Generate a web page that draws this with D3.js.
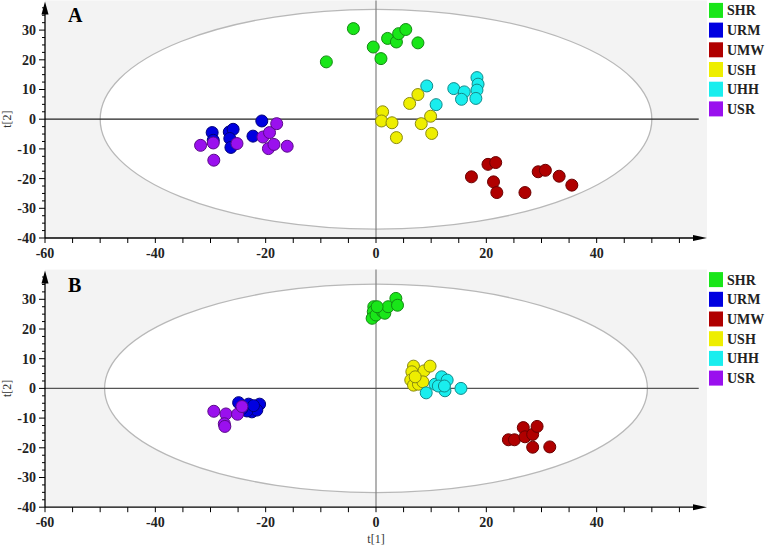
<!DOCTYPE html>
<html>
<head>
<meta charset="utf-8">
<script src="https://cdn.jsdelivr.net/npm/d3@7"></script>
<style>
  body { margin: 0; background: #fff; }
  text { font-family: "Liberation Serif", "Times New Roman", serif; }
</style>
</head>
<body>
<svg width="767" height="547"></svg>
<script>
'use strict';
(() => {

// groups, legend order = draw order
var groups = ['SHR', 'URM', 'UMW', 'USH', 'UHH', 'USR'];
var fills = ['#19e619', '#0000e0', '#b00000', '#eeee00', '#19eeee', '#9a10ee'];
var strokes = ['#128a12', '#00007a', '#6a0000', '#8a8a10', '#128a8a', '#5a0a8a'];

// panel A scores, [t1, t2]
var shrA = [[-9.0,19.3],[-4.1,30.5],[-0.5,24.3],[0.9,20.4],[2.1,27.2],[3.7,26.0],[4.1,28.8],[5.4,30.2],[7.6,25.7]];
var urmA = [[-29.7,-4.5],[-29.5,-7.1],[-26.6,-4.3],[-25.9,-3.4],[-26.5,-6.5],[-26.3,-9.5],[-22.3,-5.7],[-20.7,-0.6]];
var umwA = [[17.3,-19.4],[20.3,-15.2],[21.7,-14.6],[21.3,-21.1],[21.9,-24.7],[27.0,-24.7],[29.4,-17.7],[30.7,-17.2],[33.2,-19.2],[35.5,-22.2]];
var ushA = [[1.2,2.5],[1.0,-0.6],[2.9,-1.2],[3.7,-6.2],[6.1,5.3],[7.6,8.3],[8.2,-1.5],[9.9,1.0],[10.1,-4.8]];
var uhhA = [[9.2,11.2],[10.9,4.9],[14.1,10.3],[16.0,9.2],[15.5,6.7],[18.3,14.0],[18.5,11.8],[18.3,9.8],[18.1,7.0]];
var usrA = [[-31.8,-8.8],[-29.5,-8.0],[-29.4,-13.8],[-25.2,-8.2],[-20.5,-6.0],[-19.3,-4.5],[-18.0,-1.5],[-19.5,-9.9],[-18.5,-8.5],[-16.1,-9.1]];

// panel B scores
var shrB = [[-0.4,27.5],[-0.5,25.8],[-0.7,23.6],[0,24.7],[1.2,25.8],[1.6,25.3],[2.2,27.5],[3.6,30.3],[3.9,28.0],[0.2,27.5]];
var urmB = [[-24.9,-4.8],[-23.1,-5.3],[-22.5,-7.9],[-21.1,-5.3],[-21.6,-7.3],[-23.4,-7.6],[-24.3,-6.8],[-22.2,-5.8]];
var umwB = [[24.0,-17.3],[25.1,-17.3],[26.7,-13.2],[27.0,-16.3],[28.4,-15.5],[29.2,-12.8],[28.4,-19.8],[31.5,-19.7]];
var ushB = [[6.8,7.5],[6.5,5.6],[8.7,5.9],[9.8,7.5],[6.3,2.8],[6.8,1.1],[7.7,1.4],[8.5,2.2],[7.1,3.9]];
var uhhB = [[9.1,-1.5],[10.7,1.4],[11.9,3.9],[12.9,2.8],[12.5,-0.8],[11.3,0.8],[12.4,0.8],[15.4,0]];
var usrB = [[-29.4,-7.7],[-27.2,-8.6],[-27.5,-11.9],[-27.4,-12.8],[-25.1,-8.7],[-24.3,-6.1]];

// Hotelling ellipse half-axes [rx, ry]
var ellipseA = [50, 37];
var ellipseB = [49.2, 35.1];

var xTickLabels = [-60, -40, -20, 0, 20, 40];
var yTickLabels = [-40, -30, -20, -10, 0, 10, 20, 30];

var panels = [
  {label: 'A', top: 0.4, sets: [shrA, urmA, umwA, ushA, uhhA, usrA], ell: ellipseA, zeroCol: '#222'},
  {label: 'B', top: 269.6, sets: [shrB, urmB, umwB, ushB, uhhB, usrB], ell: ellipseB, zeroCol: '#555'}
];

var svg = d3.select('svg');
var x = d3.scaleLinear().domain([-60, 60]).range([45, 707]);
var H = 237.6;

panels.forEach((p, pi) => {
  var y = d3.scaleLinear().domain([-40, 40]).range([p.top + H, p.top]);
  var g = svg.append('g');

  g.append('rect')
    .attr('x', x(-60)).attr('y', y(40))
    .attr('width', x(60) - x(-60)).attr('height', y(-40) - y(40))
    .attr('fill', '#f3f3f3');

  g.append('ellipse')
    .attr('cx', x(0)).attr('cy', y(0))
    .attr('rx', x(p.ell[0]) - x(0)).attr('ry', y(0) - y(p.ell[1]))
    .attr('fill', '#fff').attr('stroke', '#b8b8b8').attr('stroke-width', 1.3);

  // zero lines
  g.append('line')
    .attr('x1', x(0)).attr('x2', x(0)).attr('y1', y(40)).attr('y2', y(-40))
    .attr('stroke', '#808080').attr('stroke-width', 1.2);
  g.append('line')
    .attr('x1', x(-60)).attr('x2', x(58.5)).attr('y1', y(0)).attr('y2', y(0))
    .attr('stroke', p.zeroCol).attr('stroke-width', 1.2);

  // points
  p.sets.forEach((pts, gi) => {
    g.append('g').selectAll('circle').data(pts).enter().append('circle')
      .attr('cx', d => x(d[0]))
      .attr('cy', d => y(d[1]))
      .attr('r', 6)
      .attr('fill', fills[gi])
      .attr('stroke', strokes[gi])
      .attr('stroke-width', 1);
  });

  // left axis with minor ticks every 2.5
  var yMinor = d3.range(-40, 38, 2.5);
  g.append('line')
    .attr('x1', x(-60)).attr('x2', x(-60)).attr('y1', y(-40)).attr('y2', y(38))
    .attr('stroke', '#000').attr('stroke-width', 1.3);
  g.selectAll('.ytk').data(yMinor).enter().append('line')
    .attr('x1', d => x(-60) - (d % 10 === 0 ? 6 : 3)).attr('x2', x(-60))
    .attr('y1', d => y(d)).attr('y2', d => y(d))
    .attr('stroke', '#000').attr('stroke-width', 1);
  g.selectAll('.ylb').data(yTickLabels).enter().append('text')
    .attr('x', 36).attr('y', d => y(d)).attr('dy', '0.35em')
    .attr('text-anchor', 'end').attr('font-size', 14).attr('font-weight', 'bold')
    .attr('fill', '#222')
    .text(d => d);
  g.append('path')
    .attr('d', `M${x(-60)},${y(40) + 1} l-3.5,13 l7,0 z`)
    .attr('fill', '#000');

  // bottom axis with ticks every 5
  var xMinor = d3.range(-60, 58, 5);
  g.append('line')
    .attr('x1', x(-60)).attr('x2', x(58)).attr('y1', y(-40)).attr('y2', y(-40))
    .attr('stroke', '#000').attr('stroke-width', 1.3);
  g.selectAll('.xtk').data(xMinor).enter().append('line')
    .attr('x1', d => x(d)).attr('x2', d => x(d))
    .attr('y1', y(-40)).attr('y2', y(-40) + 5)
    .attr('stroke', '#000').attr('stroke-width', 1);
  g.selectAll('.xlb').data(xTickLabels).enter().append('text')
    .attr('x', d => x(d)).attr('y', y(-40) + 19.5)
    .attr('text-anchor', 'middle').attr('font-size', 14).attr('font-weight', 'bold')
    .attr('fill', '#222')
    .text(d => d);
  g.append('path')
    .attr('d', `M${x(60)},${y(-40)} l-14,-3 l0,6 z`)
    .attr('fill', '#000');

  // panel letter
  g.append('text')
    .attr('x', 68).attr('y', p.top + 22)
    .attr('font-size', 20).attr('font-weight', 'bold')
    .text(p.label);

  // t[2] title
  g.append('text')
    .attr('transform', `translate(11,${y(0)}) rotate(-90)`)
    .attr('text-anchor', 'middle').attr('font-size', 12).attr('fill', '#333')
    .text('t[2]');

  // legend
  var leg = g.selectAll('.leg').data(groups).enter().append('g')
    .attr('transform', (d, i) => `translate(709, ${p.top + 2.5 + i * 19.7})`);
  leg.append('rect')
    .attr('width', 14).attr('height', 15)
    .attr('fill', (d, i) => fills[i]);
  leg.append('text')
    .attr('x', 18).attr('y', 12.5)
    .attr('font-size', 14).attr('font-weight', 'bold').attr('fill', '#222')
    .text(d => d);
});

svg.append('text')
  .attr('x', x(0)).attr('y', 543)
  .attr('text-anchor', 'middle').attr('font-size', 12).attr('fill', '#333')
  .text('t[1]');

})();
</script>
</body>
</html>
